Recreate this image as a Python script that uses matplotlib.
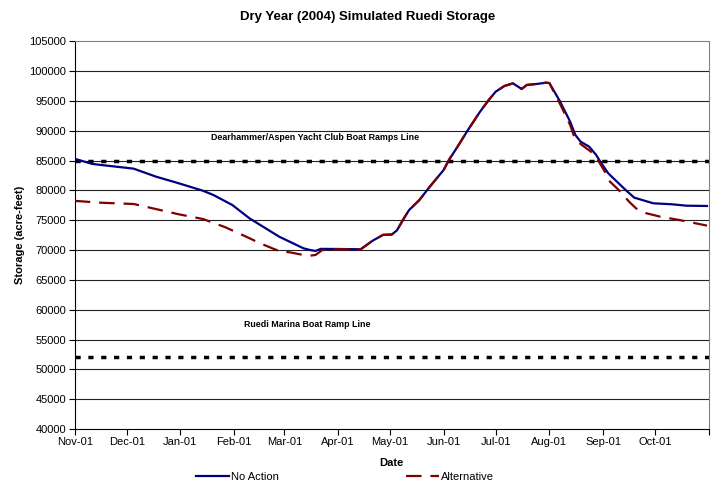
import numpy as np
import pandas as pd
import matplotlib
matplotlib.use("Agg")
import matplotlib.pyplot as plt
from matplotlib.lines import Line2D

plt.rcParams['font.family'] = ['Liberation Sans', 'DejaVu Sans']

# No Action
na_dates = ['2003-11-01', '2003-11-11', '2003-11-16', '2003-12-05', '2003-12-18', '2003-12-31',
            '2004-01-14', '2004-01-20', '2004-01-31', '2004-02-10', '2004-02-27', '2004-03-12',
            '2004-03-16', '2004-03-19', '2004-03-22', '2004-04-02', '2004-04-14', '2004-04-21',
            '2004-04-27', '2004-05-02', '2004-05-05', '2004-05-09', '2004-05-12', '2004-05-18',
            '2004-05-24', '2004-06-01', '2004-06-04', '2004-06-09', '2004-06-15', '2004-06-22',
            '2004-06-27', '2004-07-01', '2004-07-06', '2004-07-11', '2004-07-16', '2004-07-19',
            '2004-07-25', '2004-07-30', '2004-08-01', '2004-08-07', '2004-08-13', '2004-08-16',
            '2004-08-19', '2004-08-24', '2004-08-28', '2004-08-31', '2004-09-04', '2004-09-09',
            '2004-09-14', '2004-09-19', '2004-09-30', '2004-10-11', '2004-10-19', '2004-10-31']
na_vals = [85300, 84450, 84270, 83650, 82300, 81200,
           79950, 79240, 77550, 75300, 72250, 70300,
           70000, 69850, 70200, 70180, 70130, 71575,
           72550, 72600, 73300, 75300, 76700, 78400,
           80630, 83430, 85100, 87330, 90130, 93200,
           95160, 96550, 97500, 97950, 97000, 97680,
           97850, 98060, 98000, 95000, 91530, 89300,
           88180, 87330, 85950, 84550, 82870, 81470,
           80080, 78790, 77840, 77670, 77440, 77390]

# Alternative
alt_dates = ['2003-11-01', '2003-11-16', '2003-12-05', '2003-12-16', '2003-12-31', '2004-01-14',
             '2004-01-27', '2004-02-10', '2004-02-16', '2004-02-23', '2004-02-28', '2004-03-04',
             '2004-03-12', '2004-03-16', '2004-03-19', '2004-03-23', '2004-04-02', '2004-04-14',
             '2004-04-21', '2004-04-27', '2004-05-02', '2004-05-05', '2004-05-09', '2004-05-12',
             '2004-05-18', '2004-05-24', '2004-06-01', '2004-06-04', '2004-06-09', '2004-06-15',
             '2004-06-22', '2004-06-27', '2004-07-01', '2004-07-06', '2004-07-11', '2004-07-16',
             '2004-07-19', '2004-07-25', '2004-07-30', '2004-08-01', '2004-08-07', '2004-08-13',
             '2004-08-15', '2004-08-19', '2004-08-25', '2004-08-29', '2004-09-02', '2004-09-05',
             '2004-09-10', '2004-09-16', '2004-09-20', '2004-09-26', '2004-10-04', '2004-10-15',
             '2004-10-31']
alt_vals = [78250, 77940, 77720, 77000, 76000, 75210,
            73820, 71970, 71140, 70300, 69730, 69630,
            69180, 69060, 69180, 70010, 70150, 70100,
            71575, 72550, 72600, 73300, 75300, 76700,
            78400, 80630, 83430, 85100, 87330, 90130,
            93200, 95160, 96550, 97500, 97950, 97000,
            97680, 97850, 98060, 98000, 94600, 90970,
            89300, 87780, 86500, 85100, 83150, 81470,
            80080, 78120, 77000, 76170, 75600, 75040,
            74100]

boat_ramp_yacht = 85000
boat_ramp_marina = 52000
month_ticks = pd.date_range('2003-11-01', '2004-11-01', freq='MS')
tick_labels = ['Nov-01', 'Dec-01', 'Jan-01', 'Feb-01', 'Mar-01', 'Apr-01',
               'May-01', 'Jun-01', 'Jul-01', 'Aug-01', 'Sep-01', 'Oct-01', '']

fig = plt.figure(figsize=(7.13, 4.84), dpi=100)
ax = fig.add_axes([0.1048, 0.1136, 0.8892, 0.8011])

ax.set_ylim(40000, 105000)
ax.set_yticks(np.arange(40000, 105001, 5000))
ax.set_xlim(month_ticks[0], month_ticks[-1])
ax.set_xticks(month_ticks)
ax.set_xticklabels(tick_labels)

# horizontal gridlines
for y in np.arange(45000, 105000, 5000):
    ax.axhline(y, color='#222222', lw=0.8, zorder=1)

# boat ramp reference lines
ax.axhline(boat_ramp_yacht, color='black', lw=2.5, dashes=(1.5, 2.2), zorder=2)
ax.axhline(boat_ramp_marina, color='black', lw=2.5, dashes=(1.5, 2.2), zorder=2)

ax.plot(pd.to_datetime(na_dates), na_vals, color='#000080', lw=1.6, zorder=3)
ax.plot(pd.to_datetime(alt_dates), alt_vals, color='#800000', lw=1.6, dashes=(7, 4), zorder=4)

ax.text(pd.Timestamp('2004-03-19'), 88800, 'Dearhammer/Aspen Yacht Club Boat Ramps Line',
        ha='center', va='center', fontsize=6.4, fontweight='bold')
ax.text(pd.Timestamp('2004-03-14'), 57600, 'Ruedi Marina Boat Ramp Line',
        ha='center', va='center', fontsize=6.4, fontweight='bold')

for s in ['top', 'right']:
    ax.spines[s].set_color('#808080')
ax.spines['left'].set_color('black')
ax.spines['bottom'].set_color('black')
ax.tick_params(axis='both', direction='out', length=4, width=0.8, labelsize=8, pad=2)

ax.set_xlabel('Date', fontsize=8, fontweight='bold', labelpad=8)
ax.set_ylabel('Storage (acre-feet)', fontsize=8, fontweight='bold', labelpad=3)
fig.text(0.516, 0.964, 'Dry Year (2004) Simulated Ruedi Storage', ha='center', va='center',
         fontsize=9.5, fontweight='bold')

handles = [Line2D([], [], color='#000080', lw=1.6),
           Line2D([], [], color='#800000', lw=1.6, dashes=(7, 4))]
fig.legend(handles, ['No Action', 'Alternative'], loc='center', ncol=2, frameon=False,
           bbox_to_anchor=(0.484, 0.0145), fontsize=8, handlelength=2.9, handletextpad=0.2,
           columnspacing=11.5)

fig.savefig('out.png', dpi=100)
